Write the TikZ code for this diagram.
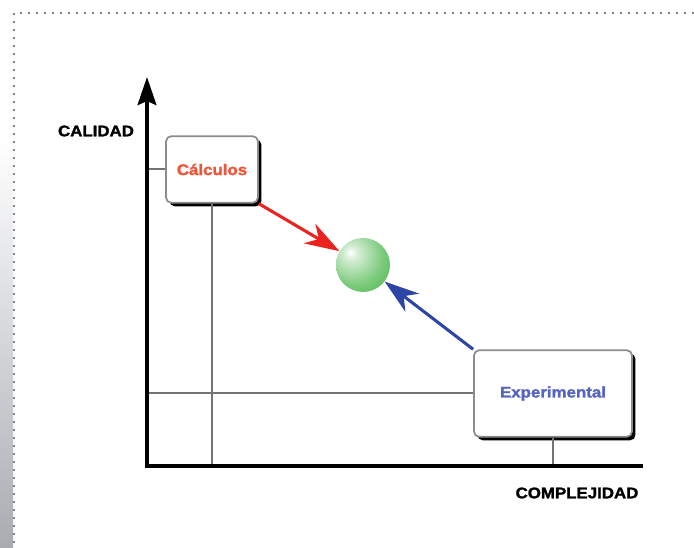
\documentclass[tikz,border=0pt]{standalone}
\usepackage{fontspec}
\setmainfont{Liberation Sans}[FakeStretch=1.1, BoldFeatures={FakeBold=1.6}]
\usetikzlibrary{arrows.meta, shadows, positioning}

\definecolor{calcred}{RGB}{240,85,55}
\definecolor{arrowred}{RGB}{235,35,30}
\definecolor{expblue}{RGB}{85,100,195}
\definecolor{arrowblue}{RGB}{45,70,165}
\definecolor{ballgreen}{RGB}{55,175,55}
\definecolor{stripgray}{RGB}{168,172,178}
\pgfdeclareradialshading{greenball}{\pgfpoint{-12bp}{12bp}}{color(0bp)=(white); color(6bp)=(ballgreen!20); color(26bp)=(ballgreen!65); color(50bp)=(ballgreen); color(80bp)=(ballgreen!85!black)}

\begin{document}
\begin{tikzpicture}[x=0.75pt, y=-0.75pt,
	box/.style = {draw = black!45, line width = 1.3pt, rounded corners = 4pt, fill = white, inner sep = 0pt,
		font = \bfseries\fontsize{11.5}{13}\selectfont,
		drop shadow = {shadow xshift = 2.6pt, shadow yshift = -2.6pt, fill = black, opacity = 1}},
	axislabel/.style = {font = \bfseries\fontsize{11.5}{13}\selectfont},
	guide/.style = {black!55, line width = 1.5pt},
	flow/.style = {line width = 2.3pt, -{Stealth[length = 26pt, width = 17pt, inset = 8pt]}}]
	\useasboundingbox (0, 0) rectangle (694, 548);

	\shade[top color = white, bottom color = stripgray] (0, 140) rectangle (13, 548);
	\draw[gray, line width = 1.5pt, dash pattern = on 1.5pt off 4.5pt] (694, 13) -- (14, 13) -- (14, 548);

	\coordinate (origin) at (147, 466);
	\coordinate (ytop) at (147, 77);
	\coordinate (xend) at (643, 466);

	\node[box, minimum width = 69pt, minimum height = 50pt] (calc) at (212, 169.5) {\textcolor{calcred}{Cálculos}};
	\node[box, minimum width = 118.5pt, minimum height = 65pt] (exp) at (553, 393.5) {\textcolor{expblue}{Experimental}};
	\node[circle, minimum size = 40.5pt, inner sep = 0pt, shading = greenball] (ball) at (363, 265) {};

	\draw[guide] (calc.west) -- (calc.west -| origin);
	\draw[guide] (calc.south) -- (calc.south |- origin);
	\draw[guide] (exp.west) -- (exp.west -| origin);
	\draw[guide] (exp.south) -- (exp.south |- origin);

	\draw[line width = 3pt, -{Stealth[length = 21pt, width = 14pt, inset = 3pt]}] (origin) -- (ytop);
	\draw[line width = 3pt] ([xshift = -1.5pt] origin) -- (xend);

	\node[axislabel] (quality) at (96, 131) {CALIDAD};
	\node[axislabel] (complexity) at (577, 493) {COMPLEJIDAD};

	\draw[flow, arrowred] (calc.south east) -- (ball);
	\draw[flow, arrowblue] (exp.north west) -- (ball);
\end{tikzpicture}
\end{document}
